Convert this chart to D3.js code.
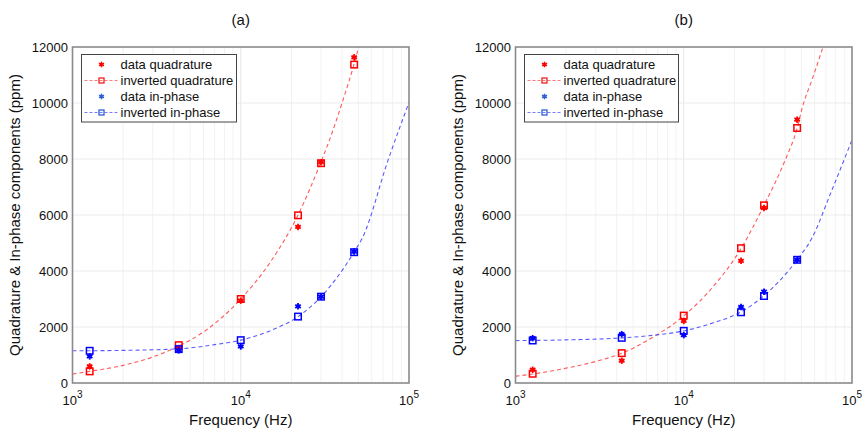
<!DOCTYPE html>
<html>
<head>
<meta charset="utf-8">
<script src="https://cdn.jsdelivr.net/npm/d3@7"></script>
<style>
  body { margin: 0; background: #fff; }
  text { font-family: "Liberation Sans", Arial, sans-serif; fill: #111; }
</style>
</head>
<body>
<div id="figure_area"></div>
<script>
// ----- ----- ----- ----- ----- ----- ----- ----- -----
// DATA
var freqs = [1265, 4280, 10000, 21900, 30000, 47200]; // Hz

// panel (a)
var quadDataA = [593, 1250, 2941, 5573, 7886, 11633];
var quadInvA = [415, 1352, 3000, 5988, 7850, 11372];
var inphDataA = [949, 1162, 1304, 2739, 3083, 4696];
var inphInvA = [1150, 1210, 1530, 2372, 3083, 4672];
// dashed model curves, [freq, ppm]
var quadCurveA = [[1000, 320], [1265, 415], [2000, 630], [3000, 930], [4280, 1320], [6000, 1820],
    [10000, 3000], [15000, 4320], [21900, 6000], [30000, 7900], [34400, 8830], [40000, 10000],
    [47200, 11400], [50200, 12000]];
var inphCurveA = [[1000, 1150], [1265, 1152], [2000, 1165], [4280, 1220], [7000, 1370], [10000, 1530],
    [15000, 1870], [21900, 2370], [30000, 3080], [47200, 4680], [53000, 5200], [75000, 7950],
    [100000, 10020]];

// panel (b)
var quadDataB = [474, 795, 2218, 4364, 6250, 9405];
var quadInvB = [330, 1067, 2407, 4815, 6345, 9108];
var inphDataB = [1601, 1743, 1708, 2716, 3261, 4400];
var inphInvB = [1518, 1613, 1862, 2526, 3107, 4400];
var quadCurveB = [[1000, 240], [1265, 320], [2000, 530], [3000, 770], [4280, 1060], [6000, 1500],
    [10000, 2400], [15000, 3450], [21900, 4800], [30000, 6350], [40000, 7950], [47200, 9100],
    [50600, 9830], [58000, 10850], [67300, 12000]];
var inphCurveB = [[1000, 1515], [1265, 1520], [2000, 1540], [4280, 1610], [6000, 1680], [10000, 1860],
    [15000, 2150], [21900, 2540], [30000, 3120], [47200, 4400], [57500, 5150], [75700, 6870],
    [100000, 8680]];

// axes
var yTicks = [0, 2000, 4000, 6000, 8000, 10000, 12000];
var xDecades = [3, 4, 5];
var legendLabels = ["data quadrature", "inverted quadrature", "data in-phase", "inverted in-phase"];
var yLabel = "Quadrature & In-phase components (ppm)";
var xLabel = "Frequency (Hz)";

// ----- ----- ----- ----- ----- ----- ----- ----- -----
// FIGURE
const figure_size = { width: 865, height: 432 };
const red = "#ff0000", blue = "#0000ff";

var svg = d3.select("#figure_area")
    .append("svg")
    .attr("width", figure_size.width)
    .attr("height", figure_size.height);

var panels = [
    { id: "a", title: "(a)", left: 72.5, right: 409, top: 47, bottom: 383, yLabelX: 20, legendW: 155,
      quadData: quadDataA, quadInv: quadInvA, inphData: inphDataA, inphInv: inphInvA,
      quadCurve: quadCurveA, inphCurve: inphCurveA },
    { id: "b", title: "(b)", left: 515.5, right: 852, top: 47, bottom: 383, yLabelX: 463, legendW: 154,
      quadData: quadDataB, quadInv: quadInvB, inphData: inphDataB, inphInv: inphInvB,
      quadCurve: quadCurveB, inphCurve: inphCurveB }
];

// asterisk-like star marker
function drawStar(g, cx, cy, r, color, sw) {
    [90, 30, 150].forEach(function (a) {
        var rad = a * Math.PI / 180;
        g.append("line")
            .attr("x1", cx - r * Math.cos(rad)).attr("y1", cy - r * Math.sin(rad))
            .attr("x2", cx + r * Math.cos(rad)).attr("y2", cy + r * Math.sin(rad))
            .attr("stroke", color).attr("stroke-width", sw);
    });
    g.append("circle").attr("cx", cx).attr("cy", cy).attr("r", r * 0.65).attr("fill", color);
}

function drawSquare(g, cx, cy, s, color, sw) {
    g.append("rect")
        .attr("x", cx - s / 2).attr("y", cy - s / 2)
        .attr("width", s).attr("height", s)
        .attr("fill", "none").attr("stroke", color).attr("stroke-width", sw);
}

function drawPanel(p) {
    var x_scale = d3.scaleLog().domain([1e3, 1e5]).range([p.left, p.right]);
    var y_scale = d3.scaleLinear().domain([0, 12000]).range([p.bottom, p.top]);
    var g = svg.append("g");

    // grid: minor vertical
    var minor = [];
    [1e3, 1e4].forEach(function (d) { for (var k = 2; k < 10; k++) minor.push(d * k); });
    g.selectAll(".minor").data(minor).enter().append("line")
        .attr("x1", function (d) { return x_scale(d); }).attr("x2", function (d) { return x_scale(d); })
        .attr("y1", p.top).attr("y2", p.bottom)
        .attr("stroke", "#f2f2f2").attr("stroke-width", 1);
    g.selectAll(".majx").data([1e4]).enter().append("line")
        .attr("x1", function (d) { return x_scale(d); }).attr("x2", function (d) { return x_scale(d); })
        .attr("y1", p.top).attr("y2", p.bottom)
        .attr("stroke", "#e6e6e6").attr("stroke-width", 1);
    g.selectAll(".majy").data(yTicks.slice(1, -1)).enter().append("line")
        .attr("x1", p.left).attr("x2", p.right)
        .attr("y1", function (d) { return y_scale(d); }).attr("y2", function (d) { return y_scale(d); })
        .attr("stroke", "#ebebeb").attr("stroke-width", 1);

    // clip
    svg.append("clipPath").attr("id", "clip-" + p.id)
        .append("rect").attr("x", p.left).attr("y", p.top)
        .attr("width", p.right - p.left).attr("height", p.bottom - p.top);

    var line = d3.line()
        .x(function (d) { return x_scale(d[0]); })
        .y(function (d) { return y_scale(d[1]); })
        .curve(d3.curveMonotoneX);

    var curves = g.append("g").attr("clip-path", "url(#clip-" + p.id + ")");
    curves.append("path").datum(p.quadCurve)
        .attr("fill", "none").attr("stroke", "#ff5a5a").attr("stroke-width", 1.1)
        .attr("stroke-dasharray", "4,3").attr("d", line);
    curves.append("path").datum(p.inphCurve)
        .attr("fill", "none").attr("stroke", "#5a5aff").attr("stroke-width", 1.1)
        .attr("stroke-dasharray", "4,3").attr("d", line);

    // markers
    freqs.forEach(function (f, i) {
        drawSquare(g, x_scale(f), y_scale(p.quadInv[i]), 6.5, red, 1.5);
        drawStar(g, x_scale(f), y_scale(p.quadData[i]), 3.2, red, 1.8);
        drawSquare(g, x_scale(f), y_scale(p.inphInv[i]), 6.5, blue, 1.5);
        drawStar(g, x_scale(f), y_scale(p.inphData[i]), 3.2, blue, 1.8);
    });

    // frame
    g.append("rect")
        .attr("x", p.left).attr("y", p.top)
        .attr("width", p.right - p.left).attr("height", p.bottom - p.top)
        .attr("fill", "none").attr("stroke", "#8a8a8a").attr("stroke-width", 1.6);

    // y tick labels
    g.selectAll(".ytl").data(yTicks).enter().append("text")
        .attr("x", p.left - 4.5)
        .attr("y", function (d) { return y_scale(d); })
        .attr("dy", "0.36em")
        .attr("text-anchor", "end")
        .style("font-size", "13px")
        .text(function (d) { return d; });

    // x tick labels 10^n
    var xt = g.selectAll(".xtl").data(xDecades).enter().append("text")
        .attr("x", function (d) { return x_scale(Math.pow(10, d)); })
        .attr("y", 405)
        .attr("text-anchor", "middle")
        .style("font-size", "13px");
    xt.append("tspan").text("10");
    xt.append("tspan").attr("dy", -7).style("font-size", "10px").text(function (d) { return d; });

    // labels
    g.append("text")
        .attr("x", (p.left + p.right) / 2).attr("y", 425)
        .attr("text-anchor", "middle").style("font-size", "15px")
        .text(xLabel);
    g.append("text")
        .attr("transform", "translate(" + p.yLabelX + "," + ((p.top + p.bottom) / 2) + ") rotate(-90)")
        .attr("text-anchor", "middle").style("font-size", "15px")
        .text(yLabel);
    g.append("text")
        .attr("x", (p.left + p.right) / 2).attr("y", 25)
        .attr("text-anchor", "middle").style("font-size", "15px")
        .text(p.title);

    // legend
    var lx = p.left + 9, ly = 54.5;
    var lg = g.append("g");
    lg.append("rect")
        .attr("x", lx).attr("y", ly).attr("width", p.legendW).attr("height", 67.5)
        .attr("fill", "#fff").attr("stroke", "#444").attr("stroke-width", 1);
    legendLabels.forEach(function (t, i) {
        var yy = ly + 10 + i * 16;
        var mx = lx + 20;
        var c = i < 2 ? red : "#2f5fd8";
        if (i % 2 === 1) {
            lg.append("line")
                .attr("x1", lx + 3).attr("x2", lx + 37).attr("y1", yy).attr("y2", yy)
                .attr("stroke", i < 2 ? "#ff7a7a" : "#7a7aff").attr("stroke-width", 1)
                .attr("stroke-dasharray", "3,2");
            drawSquare(lg, mx, yy, 5, i < 2 ? "#ee2020" : "#2f5fd8", 1.3);
        } else {
            drawStar(lg, mx, yy, 2.8, c, 1.5);
        }
        lg.append("text")
            .attr("x", lx + 39).attr("y", yy).attr("dy", "0.35em")
            .style("font-size", "13px")
            .text(t);
    });
}

panels.forEach(drawPanel);
</script>
</body>
</html>
